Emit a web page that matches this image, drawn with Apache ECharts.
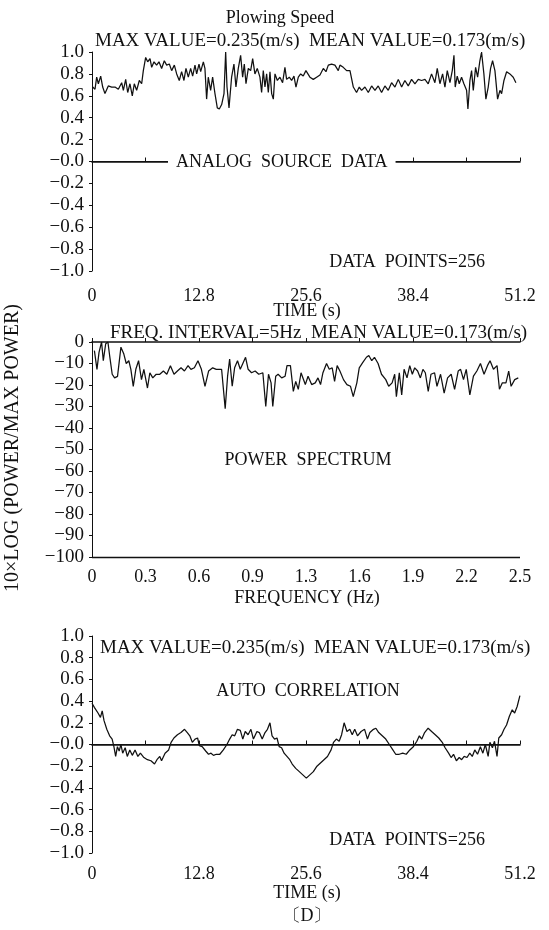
<!DOCTYPE html>
<html><head><meta charset="utf-8">
<script src="https://cdn.jsdelivr.net/npm/echarts@6/dist/echarts.min.js"></script>
<style>html,body{margin:0;padding:0;background:#fff}#c{width:549px;height:930px}</style>
</head><body><div id="c"></div>
<script>
// ---------- DATA ----------
const timeTickLabels = ['0', '12.8', '25.6', '38.4', '51.2'];
const freqTickLabels = ['0', '0.3', '0.6', '0.9', '1.3', '1.6', '1.9', '2.2', '2.5'];
const unitTickLabels = ['−1.0', '−0.8', '−0.6', '−0.4', '−0.2', '−0.0', '0.2', '0.4', '0.6', '0.8', '1.0'];
const dbTickLabels = ['−100', '−90', '−80', '−70', '−60', '−50', '−40', '−30', '−20', '−10', '0'];

// Plowing speed (analog source data): [time s, value]
const speedSeries = [
 [0.08,0.68],[0.36,0.66],[0.56,0.77],[0.76,0.71],[1.04,0.78],[1.28,0.68],[1.55,0.62],[1.95,0.69],[2.35,0.68],[2.75,0.68],
 [3.15,0.66],[3.55,0.72],[3.75,0.65],[4.03,0.75],[4.27,0.63],[4.54,0.71],[4.82,0.60],[5.06,0.71],[5.34,0.65],[5.66,0.74],
 [5.94,0.71],[6.14,0.83],[6.42,0.95],[6.66,0.91],[6.94,0.94],[7.14,0.86],[7.42,0.91],[7.73,0.88],[8.01,0.91],[8.33,0.85],
 [8.65,0.92],[8.93,0.88],[9.25,0.89],[9.53,0.83],[9.85,0.88],[10.13,0.80],[10.44,0.74],[10.72,0.82],[11.0,0.74],[11.24,0.85],
 [11.52,0.77],[11.8,0.85],[12.04,0.78],[12.32,0.88],[12.52,0.80],[12.8,0.89],[13.0,0.82],[13.32,0.91],[13.51,0.85],[13.71,0.57],
 [13.91,0.77],[14.19,0.65],[14.43,0.77],[14.71,0.62],[14.99,0.49],[15.23,0.48],[15.51,0.52],[15.79,0.62],[15.99,1.0],[16.15,0.68],
 [16.39,0.49],[16.7,0.77],[16.98,0.89],[17.22,0.68],[17.5,0.85],[17.78,0.97],[18.02,0.77],[18.22,0.89],[18.42,0.71],[18.7,0.85],
 [18.98,0.83],[19.22,0.94],[19.49,0.80],[19.77,0.85],[20.09,0.77],[20.29,0.63],[20.49,0.83],[20.69,0.68],[20.89,0.80],[21.09,0.63],
 [21.29,0.82],[21.49,0.62],[21.69,0.57],[21.89,0.80],[22.17,0.74],[22.48,0.77],[22.8,0.72],[23.08,0.86],[23.28,0.75],[23.6,0.77],
 [23.88,0.74],[24.16,0.78],[24.4,0.68],[24.68,0.77],[24.96,0.80],[25.27,0.78],[25.59,0.83],[26.07,0.77],[26.47,0.75],[26.87,0.77],
 [27.27,0.79],[27.67,0.85],[27.99,0.82],[28.27,0.88],[28.66,0.89],[29.06,0.88],[29.46,0.83],[29.66,0.88],[30.06,0.86],[30.46,0.83],
 [30.86,0.83],[31.26,0.68],[31.65,0.63],[31.97,0.68],[32.25,0.65],[32.65,0.68],[33.05,0.63],[33.45,0.69],[33.85,0.65],[34.24,0.69],
 [34.64,0.63],[35.04,0.69],[35.44,0.65],[35.84,0.72],[36.24,0.68],[36.64,0.75],[37.04,0.68],[37.43,0.74],[37.83,0.69],[38.23,0.75],
 [38.63,0.71],[39.03,0.75],[39.43,0.74],[39.83,0.75],[40.22,0.71],[40.62,0.80],[41.02,0.72],[41.3,0.85],[41.62,0.71],[41.94,0.80],
 [42.22,0.68],[42.5,0.83],[42.82,0.72],[43.1,0.83],[43.3,0.97],[43.45,0.68],[43.69,0.78],[43.93,0.71],[44.21,0.77],[44.49,0.71],
 [44.81,0.65],[44.97,0.48],[45.21,0.74],[45.41,0.83],[45.61,0.65],[45.89,0.86],[46.13,0.77],[46.4,0.92],[46.6,1.0],[46.88,0.80],
 [47.12,0.57],[47.4,0.68],[47.68,0.85],[47.92,0.92],[48.2,0.83],[48.52,0.57],[48.8,0.65],[49.0,0.62],[49.28,0.74],[49.6,0.82],
 [49.99,0.80],[50.39,0.77],[50.71,0.72]
];
const sourceBaseline = 0;

// Power spectrum: [frequency Hz, 10*log(P/Pmax)]
const spectrumSeries = [
 [0.014,-4],[0.029,-12.7],[0.041,-4.8],[0.056,0],[0.066,-8.7],[0.080,-0.8],[0.093,0],[0.103,-6.3],[0.118,-15],[0.132,-16.7],
 [0.149,-16],[0.169,-2.4],[0.186,-5.6],[0.200,-10],[0.215,-8.7],[0.227,-12.7],[0.241,-20.6],[0.256,-12.7],[0.272,-8.7],[0.289,-17.5],
 [0.303,-12.7],[0.324,-21.4],[0.338,-14.3],[0.355,-16.7],[0.375,-15],[0.396,-15],[0.417,-13.5],[0.437,-15],[0.458,-11],[0.479,-15],
 [0.499,-13.5],[0.520,-12],[0.540,-13.5],[0.561,-11],[0.578,-12.7],[0.598,-12],[0.619,-8.7],[0.639,-12.7],[0.660,-20.6],[0.681,-13.5],
 [0.705,-12],[0.726,-12.7],[0.757,-12.7],[0.778,-31],[0.792,-15.9],[0.804,-7.9],[0.819,-20.6],[0.833,-12],[0.850,-8.7],[0.866,-12.7],
 [0.881,-10],[0.897,-7.1],[0.912,-12.7],[0.932,-14.3],[0.953,-13.5],[0.974,-15],[0.998,-14.3],[1.015,-30],[1.031,-15],[1.046,-19],
 [1.056,-30],[1.073,-15.9],[1.087,-15],[1.108,-16.7],[1.128,-15.9],[1.139,-11],[1.159,-11],[1.176,-23],[1.190,-18.3],[1.205,-22],
 [1.221,-14.3],[1.231,-13.5],[1.246,-19.8],[1.262,-15.9],[1.283,-19.8],[1.304,-19],[1.320,-16.7],[1.335,-19.8],[1.349,-14.3],[1.370,-10],
 [1.386,-12.7],[1.403,-12],[1.417,-18.3],[1.432,-11],[1.448,-13.5],[1.469,-17.5],[1.489,-19.8],[1.510,-20.6],[1.526,-25.4],[1.547,-19],
 [1.561,-12],[1.582,-9.5],[1.603,-7.1],[1.617,-6.3],[1.634,-8.7],[1.650,-7.1],[1.671,-10],[1.691,-15],[1.716,-17.5],[1.733,-20.6],
 [1.753,-19],[1.768,-15],[1.778,-25.4],[1.795,-14.3],[1.809,-24.6],[1.823,-12.7],[1.840,-16.7],[1.856,-11],[1.871,-15],[1.885,-12],
 [1.902,-13.5],[1.918,-16.7],[1.933,-12.7],[1.947,-14.3],[1.964,-23],[1.980,-15],[2.001,-14.3],[2.015,-20.6],[2.036,-15],[2.057,-23.8],
 [2.077,-16.7],[2.098,-15],[2.118,-22],[2.139,-13.5],[2.153,-12.7],[2.170,-17.5],[2.186,-12.7],[2.207,-24.6],[2.228,-15.9],[2.248,-13.5],
 [2.269,-10],[2.290,-15],[2.310,-11],[2.325,-8.7],[2.345,-12.7],[2.366,-11],[2.380,-22],[2.397,-19],[2.418,-19],[2.434,-13.5],
 [2.448,-20.6],[2.469,-17.5],[2.490,-16.7]
];
const spectrumFloor = -100;

// Auto correlation: [lag s, value]
const autoCorrSeries = [
 [0,0.38],[0.30,0.34],[0.72,0.29],[1.01,0.25],[1.22,0.31],[1.44,0.22],[1.77,0.14],[2.11,0.08],[2.41,0.05],[2.62,-0.02],
 [2.83,-0.11],[3.04,-0.02],[3.25,-0.06],[3.46,0.0],[3.67,-0.08],[3.97,-0.03],[4.22,-0.11],[4.52,-0.05],[4.82,-0.10],[5.15,-0.05],
 [5.49,-0.11],[5.79,-0.08],[6.21,-0.12],[6.63,-0.14],[7.05,-0.15],[7.48,-0.18],[7.77,-0.14],[8.11,-0.11],[8.32,-0.15],[8.74,-0.08],
 [9.17,-0.05],[9.46,0.02],[9.80,0.06],[10.22,0.09],[10.64,0.11],[11.07,0.14],[11.40,0.11],[11.70,0.08],[12.00,0.02],[12.33,0.05],
 [12.63,0.06],[12.84,-0.01],[13.18,-0.02],[13.60,-0.06],[13.94,-0.09],[14.24,-0.08],[14.53,-0.10],[14.87,-0.09],[15.29,-0.09],[15.71,-0.05],
 [16.14,0.0],[16.47,0.05],[16.77,0.09],[17.07,0.08],[17.40,0.14],[17.74,0.13],[18.04,0.05],[18.33,0.12],[18.67,0.09],[19.01,0.14],
 [19.31,0.05],[19.73,0.12],[20.02,0.11],[20.36,0.05],[20.70,0.11],[20.99,0.14],[21.29,0.20],[21.54,0.08],[21.84,0.05],[22.13,0.06],
 [22.39,-0.02],[22.68,-0.03],[22.98,-0.08],[23.32,-0.11],[23.66,-0.14],[23.95,-0.18],[24.37,-0.22],[24.80,-0.25],[25.22,-0.28],[25.64,-0.31],
 [26.06,-0.28],[26.48,-0.25],[26.91,-0.20],[27.33,-0.17],[27.75,-0.14],[28.17,-0.11],[28.60,-0.05],[28.89,0.02],[29.23,0.05],[29.57,0.03],
 [29.86,0.09],[30.16,0.20],[30.50,0.12],[30.84,0.14],[31.13,0.09],[31.43,0.14],[31.76,0.08],[32.19,0.12],[32.61,0.14],[32.95,0.05],
 [33.24,0.11],[33.67,0.14],[33.96,0.15],[34.30,0.11],[34.72,0.08],[35.14,0.05],[35.57,0.0],[35.99,-0.05],[36.33,-0.09],[36.75,-0.09],
 [37.17,-0.08],[37.59,-0.09],[38.02,-0.05],[38.44,-0.02],[38.86,0.03],[39.16,0.08],[39.45,0.05],[39.79,0.11],[40.21,0.15],[40.63,0.12],
 [41.06,0.09],[41.48,0.06],[41.90,0.02],[42.24,-0.03],[42.66,-0.08],[42.96,-0.12],[43.25,-0.09],[43.59,-0.15],[43.93,-0.12],[44.22,-0.14],
 [44.52,-0.11],[44.86,-0.12],[45.19,-0.08],[45.49,-0.11],[45.79,-0.05],[46.12,-0.09],[46.46,-0.02],[46.76,-0.08],[47.05,0.0],[47.39,-0.11],
 [47.60,0.02],[47.90,-0.03],[48.15,0.03],[48.45,-0.11],[48.66,0.06],[49.00,0.09],[49.29,0.14],[49.59,0.18],[49.93,0.26],[50.27,0.32],
 [50.56,0.29],[50.86,0.35],[51.19,0.45]
];
const autoCorrBaseline = 0;

// ---------- CHART ----------
const FONT = '"Liberation Serif","DejaVu Serif",serif';
const BLACK = '#111';
const LBL = 18;
const YLBL = 19;

function timeFmt(v) { const k = Math.round(v / 6.4); return k % 2 === 0 ? timeTickLabels[k / 2] : ''; }
function freqFmt(v) { return freqTickLabels[Math.round(v / 0.3125)]; }
function unitFmt(v) { return unitTickLabels[Math.round((v + 1) / 0.2)]; }
function dbFmt(v) { return dbTickLabels[Math.round((v + 100) / 10)]; }

function xAx(grid, min, max, interval, fmt, offset) {
  return {
    gridIndex: grid, type: 'value', min, max, interval, offset,
    axisLine: { show: true, lineStyle: { color: BLACK, width: 1.6 } },
    axisTick: { show: true, inside: true, length: 4, lineStyle: { color: BLACK, width: 1 } },
    axisLabel: { formatter: fmt, color: BLACK, fontFamily: FONT, fontSize: LBL, margin: 5 },
    splitLine: { show: false }
  };
}
function yAx(grid, min, max, interval, fmt) {
  return {
    gridIndex: grid, type: 'value', min, max, interval, offset: 3,
    axisLine: { show: true, lineStyle: { color: BLACK, width: 1 } },
    axisTick: { show: true, length: 3, lineStyle: { color: BLACK, width: 1 } },
    axisLabel: { formatter: fmt, color: BLACK, fontFamily: FONT, fontSize: YLBL, margin: 5 },
    splitLine: { show: false }
  };
}
const lineStyle = { color: BLACK, width: 1.25 };
function baseline(value, width) {
  return {
    silent: true, symbol: 'none', label: { show: false }, z: 1,
    lineStyle: { color: BLACK, width, type: 'solid' },
    data: [{ yAxis: value }]
  };
}
function txt(x, y, text, size, align, extra) {
  return Object.assign({
    type: 'text', x, y, z: 100,
    style: { text, font: size + 'px ' + FONT, fill: BLACK, align: align || 'left', verticalAlign: 'middle' }
  }, extra || {});
}

const chart = echarts.init(document.getElementById('c'), null, { renderer: 'canvas' });
chart.setOption({
  animation: false,
  backgroundColor: '#fff',
  grid: [
    { left: 92, width: 428, top: 52, height: 219 },
    { left: 92, width: 428, top: 342, height: 215 },
    { left: 92, width: 428, top: 636, height: 217 }
  ],
  xAxis: [
    xAx(0, 0, 51.2, 6.4, timeFmt, 11),
    xAx(1, 0, 2.5, 0.3125, freqFmt, 6),
    xAx(2, 0, 51.2, 6.4, timeFmt, 7)
  ],
  yAxis: [
    yAx(0, -1, 1, 0.2, unitFmt),
    yAx(1, -100, 0, 10, dbFmt),
    yAx(2, -1, 1, 0.2, unitFmt)
  ],
  series: [
    { type: 'line', xAxisIndex: 0, yAxisIndex: 0, data: speedSeries, symbol: 'none', lineStyle, markLine: baseline(sourceBaseline, 1.2) },
    { type: 'line', xAxisIndex: 1, yAxisIndex: 1, data: spectrumSeries, symbol: 'none', lineStyle, markLine: baseline(spectrumFloor, 1.4) },
    { type: 'line', xAxisIndex: 2, yAxisIndex: 2, data: autoCorrSeries, symbol: 'none', lineStyle, markLine: baseline(autoCorrBaseline, 1.2) }
  ],
  graphic: [
    txt(280, 18, 'Plowing Speed', 18, 'center'),
    txt(95, 41, 'MAX VALUE=0.235(m/s)  MEAN VALUE=0.173(m/s)', 19, 'left'),
    { type: 'text', x: 168, y: 162, z: 100,
      style: { text: 'ANALOG  SOURCE  DATA', font: '18px ' + FONT, fill: BLACK, align: 'left', verticalAlign: 'middle',
               backgroundColor: '#fff', padding: [2, 8, 2, 8] } },
    txt(485, 262, 'DATA  POINTS=256', 18, 'right'),
    txt(307, 311, 'TIME (s)', 18, 'center'),
    txt(110, 333, 'FREQ. INTERVAL=5Hz  MEAN VALUE=0.173(m/s)', 19, 'left'),
    txt(308, 460, 'POWER  SPECTRUM', 18, 'center'),
    txt(307, 598, 'FREQUENCY (Hz)', 18, 'center'),
    txt(13, 448, '10×LOG (POWER/MAX POWER)', 20, 'center', { rotation: Math.PI / 2 }),
    txt(100, 648, 'MAX VALUE=0.235(m/s)  MEAN VALUE=0.173(m/s)', 19, 'left'),
    txt(308, 691, 'AUTO  CORRELATION', 18, 'center'),
    txt(485, 840, 'DATA  POINTS=256', 18, 'right'),
    txt(307, 893, 'TIME (s)', 18, 'center'),
    txt(307, 916, '〔D〕', 18, 'center')
  ]
});
</script></body></html>
